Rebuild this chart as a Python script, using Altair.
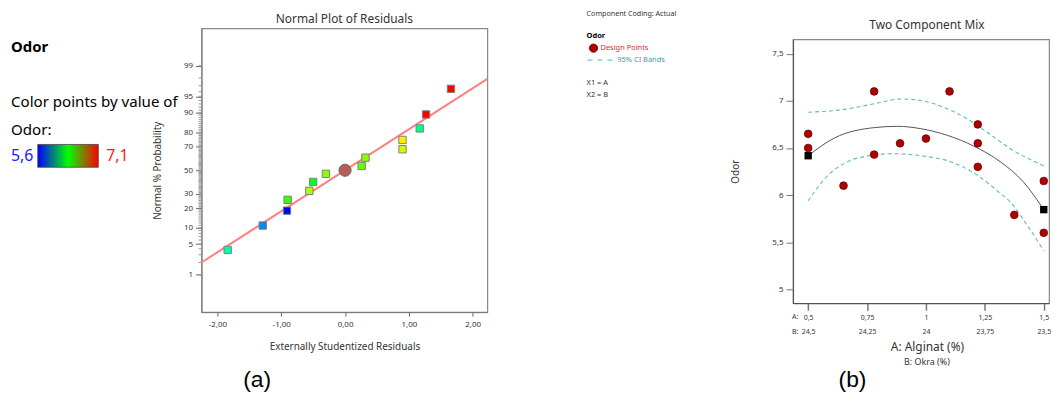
import altair as alt
import pandas as pd
from statistics import NormalDist

FONT = "Noto Sans"
TXT = "#333333"
ND = NormalDist()

# ---------------- (a) Normal plot of residuals ----------------
res_x = [-1.84, -1.29, -0.91, -0.90, -0.56, -0.50, -0.30, 0.00, 0.26, 0.32, 0.90, 0.90, 1.17, 1.27, 1.66]
res_prob = [3.8, 10.9, 18.4, 25.5, 32.3, 39.7, 46.8, 50.0, 53.8, 61.0, 68.0, 75.0, 82.4, 89.3, 96.5]
res_odor = [6.1, 5.8, 5.6, 6.43, 6.6, 6.3, 6.55, 6.6, 6.5, 6.55, 6.65, 6.75, 6.15, 7.1, 7.1]
res_selected = [0, 0, 0, 0, 0, 0, 0, 1, 0, 0, 0, 0, 0, 0, 0]
fit_x = [-2.25, 2.23]
fit_prob = [2.0, 97.9]
prob_major = [1, 5, 10, 20, 30, 50, 70, 80, 90, 95, 99]
prob_minor = list(range(1, 100))
res_x_ticks = [-2, -1, 0, 1, 2]

# ---------------- (b) Two component mix ----------------
pts_A = [0.5, 0.5, 0.65, 0.78, 0.78, 0.89, 1.0, 1.1, 1.22, 1.22, 1.22, 1.375, 1.5, 1.5]
pts_odor = [6.65, 6.50, 6.10, 7.10, 6.43, 6.55, 6.60, 7.10, 6.75, 6.55, 6.30, 5.79, 6.15, 5.60]
fit_A = [0.5, 0.612, 0.78, 0.879, 0.978, 1.09, 1.203, 1.315, 1.412, 1.5]
fit_odor = [6.418, 6.607, 6.716, 6.73, 6.705, 6.635, 6.52, 6.355, 6.144, 5.846]
ci_up_A = [0.5, 0.655, 0.781, 0.893, 0.978, 1.09, 1.174, 1.258, 1.357, 1.5]
ci_up = [6.88, 6.91, 6.97, 7.02, 7.004, 6.916, 6.81, 6.67, 6.495, 6.31]
ci_lo_A = [0.5, 0.584, 0.668, 0.781, 0.851, 0.978, 1.104, 1.216, 1.315, 1.357, 1.427, 1.5]
ci_lo = [5.94, 6.21, 6.355, 6.425, 6.44, 6.418, 6.355, 6.215, 6.02, 5.93, 5.69, 5.41]
end_A = [0.5, 1.5]
end_odor = [6.418, 5.846]
mix_x_ticks = [0.5, 0.75, 1, 1.25, 1.5]
mix_y_ticks = [5, 5.5, 6, 6.5, 7, 7.5]
total_pct = 25

NOVIEW = alt.ViewBackground(stroke="transparent")


def label(text, x, y, size, color=TXT, weight="normal", font=FONT, align="left", baseline="middle"):
    return alt.Chart(pd.DataFrame({"t": [text]})).mark_text(
        align=align, baseline=baseline, fontSize=size, font=font, color=color, fontWeight=weight
    ).encode(x=alt.value(x), y=alt.value(y), text="t:N")


# ---------- left text panel ----------
grad = alt.LinearGradient(
    gradient="linear",
    stops=[
        alt.GradientStop(offset=0, color="#0000ff"),
        alt.GradientStop(offset=0.5, color="#00ff00"),
        alt.GradientStop(offset=1, color="#ff0000"),
    ],
    x1=0, x2=1, y1=0, y2=0,
)
grad_rect = alt.Chart(pd.DataFrame({"a": [0]})).mark_rect(
    fill=grad, stroke="#444444", strokeWidth=0.8
).encode(x=alt.value(27), x2=alt.value(88), y=alt.value(117), y2=alt.value(140))

left_panel = alt.layer(
    label("Odor", 0, 19, 15, color="#000000", weight="bold"),
    label("Color points by value of", 0, 74, 15.2, color="#000000"),
    label("Odor:", 0, 102, 15.2, color="#000000"),
    label("5,6", 0, 129, 16, color="#1a1aff"),
    grad_rect,
    label("7,1", 96, 129, 16, color="#ff1a1a"),
).properties(width=182, height=286, view=NOVIEW)

# ---------- residual chart ----------
res_df = pd.DataFrame({
    "x": res_x,
    "z": [ND.inv_cdf(p / 100) for p in res_prob],
    "odor": res_odor,
    "sel": res_selected,
})
fit_df = pd.DataFrame({"x": fit_x, "z": [ND.inv_cdf(p / 100) for p in fit_prob]})
minor_df = pd.DataFrame({"z": [ND.inv_cdf(p / 100) for p in prob_minor]})
z_major = [ND.inv_cdf(p / 100) for p in prob_major]

x_res = alt.X(
    "x:Q",
    scale=alt.Scale(domain=[-2.25, 2.23], nice=False, zero=False),
    axis=alt.Axis(
        values=res_x_ticks,
        labelExpr="replace(replace(format(datum.value, '.2f'), '.', ','), '\u2212', '-')",
        labelFontSize=8, tickSize=4, tickColor="#666666", domainColor="#777777",
        labelPadding=4, labelFlush=False, labelOverlap=False,
        title="Externally Studentized Residuals", titleFontSize=10,
        titleX=144, titleY=35, titleBaseline="middle",
    ),
)
y_res = alt.Y(
    "z:Q",
    scale=alt.Scale(domain=[-3.16, 3.16], nice=False, zero=False),
    axis=alt.Axis(
        values=z_major,
        labelExpr="format(cumulativeNormal(datum.value) * 100, '.0f')",
        labelFontSize=8, tickSize=6, tickColor="#666666", domainColor="#777777",
        labelPadding=3, labelOverlap=False,
        title="Normal % Probability", titleFontSize=10,
        titleX=-44, titleY=143, titleBaseline="middle", titleAlign="center",
    ),
)

minor_layer = alt.Chart(minor_df).mark_rule(color="#999999", strokeWidth=1).encode(
    y=y_res, x=alt.value(-3), x2=alt.value(0)
)
fit_layer = alt.Chart(fit_df).mark_line(color="#ff8080", strokeWidth=2).encode(x=x_res, y=y_res)
sq_layer = alt.Chart(res_df).transform_filter("datum.sel == 0").mark_square(
    size=55, stroke="#808080", strokeWidth=1, opacity=1
).encode(
    x=x_res, y=y_res,
    color=alt.Color(
        "odor:Q",
        scale=alt.Scale(domain=[5.6, 6.35, 7.1], range=["#0000ff", "#00ff00", "#ff0000"], interpolate="hsl"),
        legend=None,
    ),
)
sel_layer = alt.Chart(res_df).transform_filter("datum.sel == 1").mark_circle(
    size=150, color="#b85c58", stroke="#666666", strokeWidth=1, opacity=1
).encode(x=x_res, y=y_res)

res_chart = alt.layer(
    minor_layer, fit_layer, sq_layer, sel_layer,
    label("(a)", 56, 354, 23, color="#000000", font="Liberation Sans", align="center"),
).properties(
    width=288, height=286,
    title=alt.Title("Normal Plot of Residuals", fontSize=12, fontWeight="normal", color=TXT, font=FONT, offset=2),
)

# ---------- middle legend panel ----------
MX = 90
legend_dot = alt.Chart(pd.DataFrame({"a": [0]})).mark_circle(
    size=70, color="#b00000", stroke="#700000", strokeWidth=0.8, opacity=1
).encode(x=alt.value(MX + 7), y=alt.value(20))
legend_dash = alt.Chart(pd.DataFrame({"a": [0]})).mark_rule(
    color="#4fb6b6", strokeWidth=1, strokeDash=[5, 5]
).encode(x=alt.value(MX + 1), x2=alt.value(MX + 30), y=alt.value(32))

mid_panel = alt.layer(
    label("Component Coding: Actual", MX, -14, 7.2),
    label("Odor", MX, 8, 7.5, color="#000000", weight="bold"),
    legend_dot,
    label("Design Points", MX + 14, 20, 7.5, color="#cc3333"),
    legend_dash,
    label("95% CI Bands", MX + 31, 32, 7.5, color="#3aa0a0"),
    label("X1 = A", MX, 55, 7.5),
    label("X2 = B", MX, 67, 7.5),
).properties(width=288, height=286, view=NOVIEW)

# ---------- right chart ----------
pts_df = pd.DataFrame({"A": pts_A, "odor": pts_odor})
fitc_df = pd.DataFrame({"A": fit_A, "odor": fit_odor})
ci_df = pd.concat([
    pd.DataFrame({"A": ci_up_A, "odor": ci_up, "band": "upper"}),
    pd.DataFrame({"A": ci_lo_A, "odor": ci_lo, "band": "lower"}),
])
end_df = pd.DataFrame({"A": end_A, "odor": end_odor})

x_mix = alt.X(
    "A:Q",
    scale=alt.Scale(domain=[0.4355, 1.5223], nice=False, zero=False),
    axis=alt.Axis(
        values=mix_x_ticks,
        labelExpr=(
            "[replace(format(datum.value, '~g'), '.', ','), "
            f"replace(format({total_pct} - datum.value, '~g'), '.', ',')]"
        ),
        labelLineHeight=15, labelFontSize=7, labelPadding=3, labelFlush=False, labelOverlap=False,
        tickSize=7, tickWidth=1.5, tickColor="#777777", domainColor="#555555", domainWidth=1.2,
        title="A: Alginat (%)", titleFontSize=12, titleX=135, titleY=44, titleBaseline="middle",
    ),
)
y_mix = alt.Y(
    "odor:Q",
    scale=alt.Scale(domain=[4.853, 7.654], nice=False, zero=False),
    axis=alt.Axis(
        values=mix_y_ticks,
        labelExpr="replace(format(datum.value, '~g'), '.', ',')",
        labelFontSize=8, labelPadding=3, labelOverlap=False,
        tickSize=7, tickColor="#777777", domainColor="#555555", domainWidth=1.2,
        title="Odor", titleFontSize=10, titleX=-58, titleY=133, titleBaseline="middle", titleAlign="center",
    ),
)

ci_layer = alt.Chart(ci_df).mark_line(
    color="#5fbcbc", strokeWidth=1.1, strokeDash=[4, 3], interpolate="monotone"
).encode(x=x_mix, y=y_mix, detail="band:N")
fitc_layer = alt.Chart(fitc_df).mark_line(color="#555555", strokeWidth=1, interpolate="monotone").encode(
    x=x_mix, y=y_mix
)
pts_layer = alt.Chart(pts_df).mark_circle(
    size=60, color="#b00000", stroke="#6a0000", strokeWidth=0.8, opacity=1
).encode(x=x_mix, y=y_mix)
end_layer = alt.Chart(end_df).mark_square(size=55, color="#000000", opacity=1).encode(x=x_mix, y=y_mix)

right_chart = alt.layer(
    ci_layer, fitc_layer, pts_layer, end_layer,
    label("A:", -1, 280, 7),
    label("B:", -1, 295, 7),
    label("B: Okra (%)", 135, 325, 9, align="center"),
    label("(b)", 60, 343, 23, color="#000000", font="Liberation Sans", align="center"),
).properties(
    width=258, height=266,
    title=alt.Title("Two Component Mix", fontSize=12, fontWeight="normal", color=TXT, font=FONT,
                    offset=7, dx=6),
)

spacer = alt.Chart(pd.DataFrame({"a": [0]})).mark_point(opacity=0).encode(
    x=alt.value(0), y=alt.value(0)
).properties(width=258, height=1, view=NOVIEW)

right_col = alt.vconcat(spacer, right_chart, spacing=10, bounds="flush")

chart = alt.hconcat(
    left_panel, res_chart, mid_panel, right_col, spacing=10, bounds="flush"
).properties(
    padding={"left": 2, "top": 0, "right": 0, "bottom": 0}
).configure_view(
    stroke="#888888", strokeWidth=1.2
).configure_axis(
    grid=False, labelFont=FONT, titleFont=FONT, labelColor=TXT, titleColor=TXT, titleFontWeight="normal"
).configure_text(font=FONT)

chart.save("out.html", embed_options={"renderer": "svg", "actions": False})
